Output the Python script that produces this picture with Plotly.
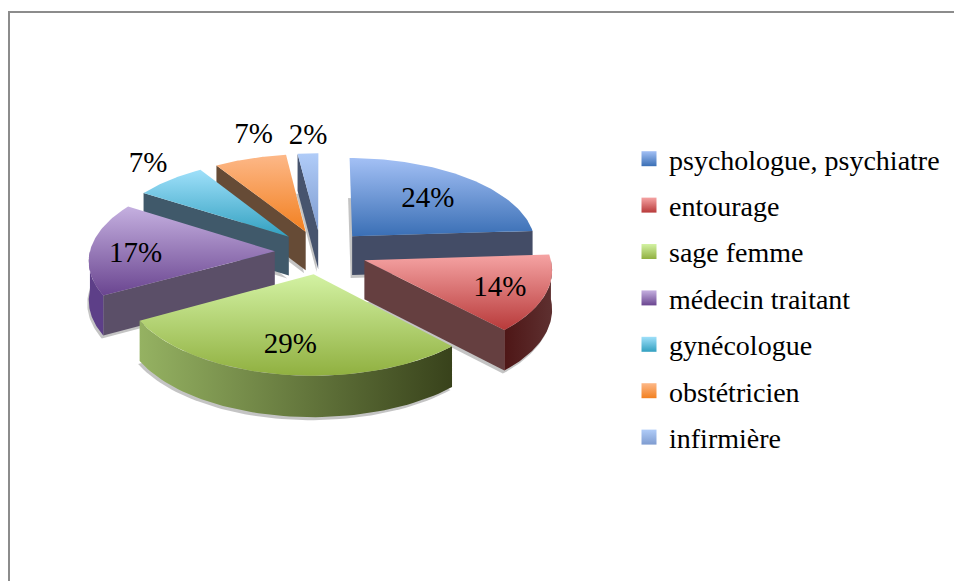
import numpy as np
import plotly.graph_objects as go

categories = ["psychologue, psychiatre", "entourage", "sage femme", "médecin traitant",
              "gynécologue", "obstétricien", "infirmière"]
values = [24, 14, 29, 17, 7, 7, 2]

top_light = ["#a3c0f5", "#f5a3a3", "#d3f2a3", "#c5b0e0", "#9fe0fa", "#fdb888", "#b0ccf8"]
top_dark = ["#3a6fb5", "#b83a3a", "#90b040", "#6a4590", "#32a0c0", "#f28020", "#7f9cd0"]
wall_col = ["#434c66", "#653f40", "#3b4a20", "#5b4f68", "#40596a", "#664b36", "#47546e"]
arc_left = ["#3a5a8a", "#4e1616", "#95b262", "#5d3f88", "#2f6f85", "#a05a20", "#5f75a0"]
arc_right = ["#2f4a70", "#5e3030", "#38421b", "#5d3f88", "#2f6f85", "#a05a20", "#5f75a0"]
label_r = [0.6, 0.82, 0.8, 0.75, 1.15, 1.15, 1.1]
label_nudge = [(5, -1), (-12, 1), (3, -7), (-1, 6), (-5, -7), (11, -13), (1, -10)]
draw_order = [6, 5, 4, 3, 0, 1, 2]

# camera constants
CX, CY, AX, BY, PULL, DIST, DEPTH = 321, 252, 185, 88, 0.25, 11.0, 39
FONT = "Liberation Serif"


def project(u, v):
    s = DIST / (DIST + v)
    return CX + AX * u * s, CY - BY * v * s, np.sqrt(s)


cum = np.concatenate([[0], np.cumsum(values)]) / sum(values) * 2 * np.pi
fig = go.Figure()


def grad_fill(xs, ys, light, dark, horizontal=False):
    xs, ys = list(xs), list(ys)
    if horizontal:
        fg = dict(type="horizontal", colorscale=[[0, light], [1, dark]], start=min(xs), stop=max(xs))
    else:
        fg = dict(type="vertical", colorscale=[[0, light], [1, dark]], start=min(ys), stop=max(ys))
    return go.Scatter(x=xs + xs[:1], y=ys + ys[:1], mode="lines", line=dict(width=0), fill="toself",
                      fillgradient=fg, hoverinfo="skip", showlegend=False)


def flat_fill(xs, ys, col):
    xs, ys = list(xs), list(ys)
    return go.Scatter(x=xs + xs[:1], y=ys + ys[:1], mode="lines", line=dict(width=0), fill="toself",
                      fillcolor=col, hoverinfo="skip", showlegend=False)


lab_x, lab_y, lab_t = [], [], []
for i in draw_order:
    a0, a1 = cum[i], cum[i + 1]
    m = (a0 + a1) / 2
    ou, ov = PULL * np.sin(m), PULL * np.cos(m)
    th = np.linspace(a0, a1, 60)
    us = np.r_[ou, ou + np.sin(th)]
    vs = np.r_[ov, ov + np.cos(th)]
    px, py, ps = project(us, vs)
    # soft shadow under the bottom face
    fig.add_trace(flat_fill(px - 1.5, py + DEPTH * ps + 3, "rgba(60,60,60,0.3)"))
    # radial walls facing the viewer
    for ang, visible in ((a0, np.sin(a0) < 0), (a1, np.sin(a1) > 0)):
        if visible:
            wu = np.array([ou, ou + np.sin(ang)])
            wv = np.array([ov, ov + np.cos(ang)])
            wx, wy, ws = project(wu, wv)
            fig.add_trace(flat_fill(np.r_[wx, wx[::-1]], np.r_[wy, (wy + DEPTH * ws)[::-1]], wall_col[i]))
    # outer rim
    b0, b1 = max(a0, np.pi / 2), min(a1, 3 * np.pi / 2)
    if b1 > b0:
        t = np.linspace(b0, b1, 60)
        rx, ry, rs = project(ou + np.sin(t), ov + np.cos(t))
        fig.add_trace(grad_fill(np.r_[rx, rx[::-1]], np.r_[ry, (ry + DEPTH * rs)[::-1]],
                                arc_left[i], arc_right[i], horizontal=True))
    # top face
    fig.add_trace(grad_fill(px, py, top_light[i], top_dark[i]))
    lx, ly, _ = project(ou + label_r[i] * np.sin(m), ov + label_r[i] * np.cos(m))
    lab_x.append(lx + label_nudge[i][0])
    lab_y.append(ly + label_nudge[i][1])
    lab_t.append(f"{values[i]}%")

fig.add_trace(go.Scatter(x=lab_x, y=lab_y, text=lab_t, mode="text", textposition="middle center",
                         textfont=dict(family=FONT, size=29, color="black"),
                         hoverinfo="skip", showlegend=False))

for i, name in enumerate(categories):
    fig.add_trace(go.Scatter(x=[None], y=[None], mode="markers", name=name, legendgroup=name,
                             marker=dict(symbol="square", size=15, color=top_light[i],
                                         gradient=dict(type="vertical", color=top_dark[i]),
                                         line=dict(width=0))))

fig.update_layout(
    width=954, height=581, margin=dict(l=0, r=0, t=0, b=0),
    paper_bgcolor="white", plot_bgcolor="white",
    xaxis=dict(range=[0, 954], visible=False, fixedrange=True),
    yaxis=dict(range=[581, 0], visible=False, fixedrange=True),
    legend=dict(x=629 / 954, y=1 - 134 / 581, xanchor="left", yanchor="top",
                font=dict(family=FONT, size=28, color="black"), tracegroupgap=7,
                bgcolor="rgba(0,0,0,0)"),
    shapes=[dict(type="rect", xref="x", yref="y", x0=9, y0=12, x1=1000, y1=640,
                 line=dict(color="#8c8c8c", width=2), layer="above")],
)

fig.write_html("out.html", config=dict(displayModeBar=False),
               post_script="document.body.style.margin='0';")
